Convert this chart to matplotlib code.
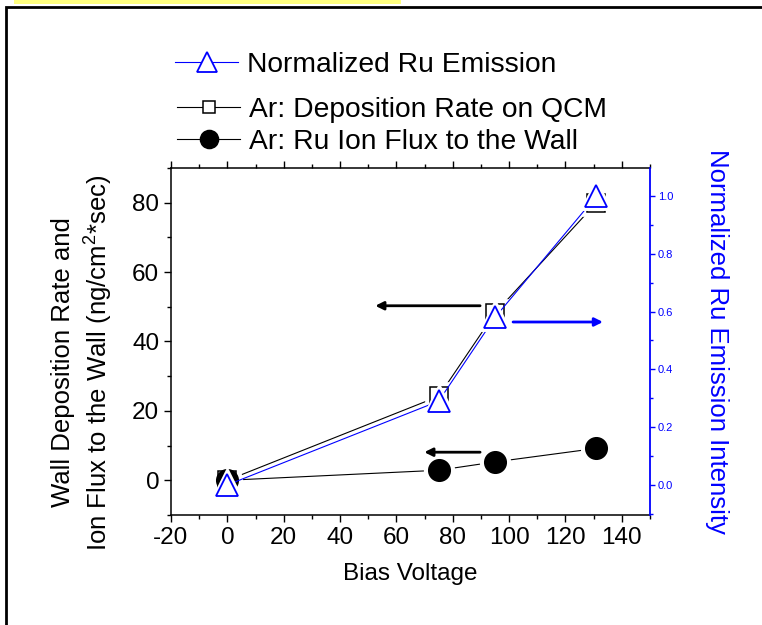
import matplotlib
matplotlib.use("Agg")
import matplotlib.pyplot as plt
from matplotlib.patches import Rectangle
from matplotlib.ticker import MultipleLocator
from matplotlib.lines import Line2D

plt.rcParams['font.family'] = ['Liberation Sans', 'DejaVu Sans']
plt.rcParams['mathtext.fontset'] = 'custom'
plt.rcParams['mathtext.rm'] = 'Liberation Sans'
plt.rcParams['axes.unicode_minus'] = False

# data
bias = [0, 75, 95, 131]
emission = [0.0, 0.29, 0.58, 1.0]
deposition = [0.0, 24.2, 48.2, 80.0]
ion_flux = [0.0, 2.9, 5.3, 9.2]

fig = plt.figure(figsize=(7.62, 6.25), dpi=100)
fig.patches.append(Rectangle((6/762, -0.2), 1.2, 1.2 - 7/625, transform=fig.transFigure,
                             fill=False, ec='black', lw=2.0))
fig.patches.append(Rectangle((14/762, 1 - 4/625), (401-14)/762, 4/625, transform=fig.transFigure,
                             fc='#ffff80', ec='none'))

ax = fig.add_axes([171/762, 1-515/625, (650-171)/762, (515-168)/625])
ax2 = ax.twinx()
ax.set_zorder(1)
ax2.set_zorder(2)
ax.patch.set_visible(False)
ax2.patch.set_visible(False)

lw = 0.8
# black series
ax.plot(bias, deposition, color='black', lw=lw, zorder=2)
ax.plot(bias, ion_flux, color='black', lw=lw, zorder=2)
ax.plot(bias, deposition, ls='none', marker='s', ms=13, mfc='white', mec='white', mew=7, zorder=3)
ax.plot(bias, ion_flux, ls='none', marker='o', ms=15.5, mfc='white', mec='white', mew=7, zorder=3)
l_dep, = ax.plot(bias, deposition, ls='none', marker='s', ms=13, mfc='white', mec='black', mew=1.1, zorder=4)
l_ion, = ax.plot(bias, ion_flux, ls='none', marker='o', ms=15.5, mfc='black', mec='black', mew=1.1, zorder=4)

# blue series
ax2.plot(bias, emission, color='blue', lw=lw, zorder=2)
ax2.plot(bias, emission, ls='none', marker='^', ms=16, mfc='white', mec='white', mew=5, zorder=3)
l_em, = ax2.plot(bias, emission, ls='none', marker='^', ms=16, mfc='white', mec='blue', mew=1.3, zorder=4)

ax.set_xlim(-20, 150)
ax.set_ylim(-10, 90)
ax2.set_ylim(-0.104, 1.097)

ax.xaxis.set_major_locator(MultipleLocator(20))
ax.xaxis.set_minor_locator(MultipleLocator(10))
ax.yaxis.set_major_locator(MultipleLocator(20))
ax.yaxis.set_minor_locator(MultipleLocator(10))
ax2.yaxis.set_major_locator(MultipleLocator(0.2))
ax2.yaxis.set_minor_locator(MultipleLocator(0.1))
ax2.yaxis.set_major_formatter(matplotlib.ticker.FormatStrFormatter('%.1f'))

ax.tick_params(axis='both', which='major', direction='out', length=5, width=1, labelsize=17.5, top=True, right=False)
ax.tick_params(axis='both', which='minor', direction='out', length=3, width=1, top=True, right=False)
ax.tick_params(axis='x', which='both', labeltop=False)
ax2.tick_params(axis='y', which='major', direction='out', length=3.5, width=1, colors='blue', labelsize=8, pad=2)
ax2.tick_params(axis='y', which='minor', direction='out', length=2.5, width=1, colors='blue')

for s in ['left', 'bottom', 'top']:
    ax.spines[s].set_linewidth(1.1)
ax.spines['right'].set_visible(False)
for s in ['left', 'bottom', 'top']:
    ax2.spines[s].set_visible(False)
ax2.spines['right'].set_color('blue')
ax2.spines['right'].set_linewidth(1.3)

ax.set_xlabel('Bias Voltage', fontsize=17.5, labelpad=10)
ax.set_ylabel('Wall Deposition Rate and\nIon Flux to the Wall (ng/cm$^{2}$*sec)', fontsize=18.5,
              linespacing=1.25)
ax.yaxis.set_label_coords(-0.119, 0.44)
ax2.set_ylabel('Normalized Ru Emission Intensity', fontsize=18.5, color='blue', rotation=-90,
               labelpad=40)

# arrows
ax.annotate('', xy=(52.5, 50.3), xytext=(89.7, 50.3),
            arrowprops=dict(arrowstyle='-|>', color='black', lw=2, mutation_scale=12, shrinkA=0, shrinkB=0))
ax.annotate('', xy=(69.9, 8.1), xytext=(89.7, 8.1),
            arrowprops=dict(arrowstyle='-|>', color='black', lw=2, mutation_scale=12, shrinkA=0, shrinkB=0))
ax2.annotate('', xy=(133.3, 0.564), xytext=(101.4, 0.564),
             arrowprops=dict(arrowstyle='-|>', color='blue', lw=2, mutation_scale=12, shrinkA=0, shrinkB=0))

# legends
h_em = Line2D([], [], color='blue', lw=lw, marker='^', ms=14, mfc='white', mec='blue', mew=1.3)
h_dep = Line2D([], [], color='black', lw=lw, marker='s', ms=9, mfc='white', mec='black', mew=1.1)
h_ion = Line2D([], [], color='black', lw=lw, marker='o', ms=13, mfc='black', mec='black', mew=1.1)
leg1 = fig.legend([h_em], ['Normalized Ru Emission'], loc='center left',
                  bbox_to_anchor=(175/762, 1-65/625), frameon=False, fontsize=20.3,
                  handlelength=2.25, handletextpad=0.3, borderpad=0, borderaxespad=0)
leg2 = fig.legend([h_dep, h_ion], ['Ar: Deposition Rate on QCM', 'Ar: Ru Ion Flux to the Wall'],
                  loc='center left', bbox_to_anchor=(177/762, 1-126/625), frameon=False, fontsize=20.3,
                  handlelength=2.25, handletextpad=0.3, labelspacing=0.22, borderpad=0, borderaxespad=0)

fig.savefig('out.png', dpi=100)
